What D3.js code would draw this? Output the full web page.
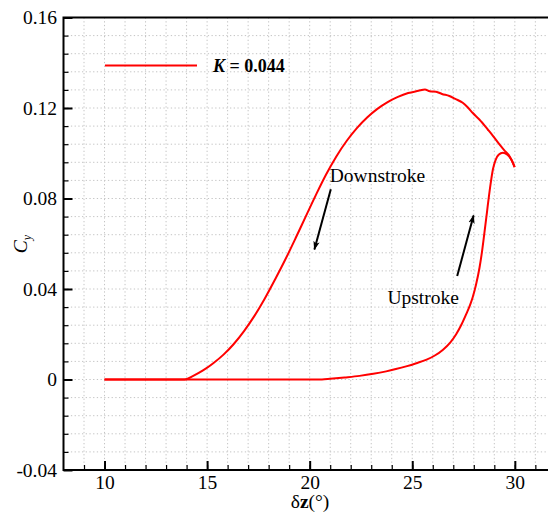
<!DOCTYPE html>
<html>
<head>
<meta charset="utf-8">
<script src="https://cdn.jsdelivr.net/npm/d3@7"></script>
<style>
  html, body { margin: 0; padding: 0; background: #fff; overflow: hidden; }
  svg { display: block; font-family: "Liberation Serif", "Times New Roman", serif; }
</style>
</head>
<body>
<svg id="chart" width="548" height="515"></svg>
<script>
// Lift coefficient over one flapping cycle, K = 0.044
// Upstroke runs left to right along the bottom; downstroke returns over the top.
const dz = [
  10, 14, 20.6, 21.0, 21.7, 22.43, 23.1, 23.73, 24.2, 24.7, 25.2, 25.7, 26.1, 26.5,
  26.85, 27.14, 27.40, 27.63, 27.82, 27.95, 28.11, 28.28, 28.40, 28.52, 28.64, 28.74,
  28.84, 28.93, 29.06, 29.21, 29.42, 29.64, 29.84, 29.99,
  29.88, 29.7, 29.49, 29.25, 28.95, 28.68, 28.27, 27.94, 27.7, 27.46, 27.1, 26.81,
  26.45, 26.16, 25.85, 25.62, 25.3, 24.8, 24.3, 23.8, 23.3, 22.8, 22.3, 21.8,
  21.3, 20.8, 20.3, 19.8, 19.3, 18.8, 18.3, 17.8, 17.3, 16.8, 16.3, 15.8,
  15.3, 14.8, 14.3, 13.9, 10
];
const cy = [
  0, 0, 0, 0.0003, 0.0009, 0.0016, 0.0025, 0.0036, 0.0046, 0.0058, 0.0072, 0.0088, 0.0106, 0.0132,
  0.0163, 0.0200, 0.0243, 0.0289, 0.0330, 0.0365, 0.0420, 0.0495, 0.0565, 0.0650, 0.0738, 0.0812,
  0.0878, 0.0928, 0.0970, 0.0993, 0.1002, 0.0993, 0.0971, 0.0939,
  0.0962, 0.0993, 0.1013, 0.1039, 0.1075, 0.1105, 0.1149, 0.1179, 0.1203, 0.1223, 0.1240, 0.1253,
  0.1262, 0.1272, 0.1274, 0.1282, 0.1276, 0.1266, 0.1249, 0.1226, 0.1196, 0.1158, 0.1111, 0.1054,
  0.0986, 0.0906, 0.0815, 0.0719, 0.0622, 0.0528, 0.0440, 0.0356, 0.0280, 0.0214, 0.0157, 0.0110,
  0.0072, 0.0040, 0.0015, 0, 0
];

const xMajor = [10, 15, 20, 25, 30];
const yMajor = [-0.04, 0, 0.04, 0.08, 0.12, 0.16];
const yLabels = ["-0.04", "0", "0.04", "0.08", "0.12", "0.16"];
const xDomain = [8, 32];
const yDomain = [-0.04, 0.16];
const legendLabel = "0.044";

// Annotation anchors in data units: [x, y]
const downText = [20.98, 0.0871];
const downArrow = [[21.03, 0.0841], [20.23, 0.0575]];
const upText = [23.79, 0.0332];
const upArrow = [[27.19, 0.0457], [27.99, 0.0725]];

const svg = d3.select("#chart");
const plotLeft = 63.5, plotTop = 17.5, plotBottom = 470;
const x = d3.scaleLinear().domain(xDomain).range([plotLeft, plotLeft + 24 * 20.515]);
const y = d3.scaleLinear().domain(yDomain).range([plotBottom, plotTop]);
const plotRight = x(xDomain[1]);

svg.append("rect").attr("width", 548).attr("height", 515).attr("fill", "#fff");

// Dotted grid on every minor step
const xMinor = d3.range(xDomain[0] + 1, xDomain[1], 1);
const yMinor = d3.range(1, 25).map(i => +(yDomain[0] + i * 0.008).toFixed(3));
const grid = svg.append("g").attr("stroke", "#c4c4c4").attr("stroke-width", 1)
  .attr("stroke-dasharray", "1.3,2.4");
grid.selectAll("line.gx").data(xMinor).join("line").attr("class", "gx")
  .attr("x1", d => x(d)).attr("x2", d => x(d)).attr("y1", plotTop).attr("y2", plotBottom);
grid.selectAll("line.gy").data(yMinor).join("line").attr("class", "gy")
  .attr("x1", plotLeft).attr("x2", plotRight).attr("y1", d => y(d)).attr("y2", d => y(d));

// Axes with inward ticks
const fontSize = "19.5px";
const gxMinor = svg.append("g").attr("transform", `translate(0,${plotBottom})`)
  .call(d3.axisBottom(x).tickValues(xMinor).tickSize(-5).tickFormat(""));
const gxMajor = svg.append("g").attr("transform", `translate(0,${plotBottom})`)
  .call(d3.axisBottom(x).tickValues(xMajor).tickSize(-9).tickPadding(5).tickFormat(d3.format("d")));
const gyMinor = svg.append("g").attr("transform", `translate(${plotLeft},0)`)
  .call(d3.axisLeft(y).tickValues(yMinor).tickSize(-5).tickFormat(""));
const gyMajor = svg.append("g").attr("transform", `translate(${plotLeft},0)`)
  .call(d3.axisLeft(y).tickValues(yMajor).tickSize(-9).tickPadding(6.5)
    .tickFormat((d, i) => yLabels[i]));

[gxMinor, gxMajor, gyMinor, gyMajor].forEach(g => {
  g.select(".domain").remove();
  g.selectAll("text").attr("font-family", "Liberation Serif").attr("font-size", fontSize).attr("fill", "#000");
});
gxMinor.selectAll("line").attr("stroke", "#000").attr("stroke-width", 1.2);
gyMinor.selectAll("line").attr("stroke", "#000").attr("stroke-width", 1.2);
gxMajor.selectAll("line").attr("stroke", "#000").attr("stroke-width", 2);
gyMajor.selectAll("line").attr("stroke", "#000").attr("stroke-width", 2);

// Frame
svg.append("rect").attr("x", plotLeft).attr("y", plotTop)
  .attr("width", plotRight - plotLeft).attr("height", plotBottom - plotTop)
  .attr("fill", "none").attr("stroke", "#000").attr("stroke-width", 2);

// Curve: each stroke is monotone in δz, so draw the two halves separately
const pts = dz.map((d, i) => [d, cy[i]]);
const turn = d3.maxIndex(dz);
const line = d3.line().curve(d3.curveMonotoneX).x(d => x(d[0])).y(d => y(d[1]));
svg.selectAll("path.stroke")
  .data([pts.slice(0, turn + 1), pts.slice(turn)])
  .join("path").attr("class", "stroke")
  .attr("fill", "none").attr("stroke", "#ff0000").attr("stroke-width", 2)
  .attr("stroke-linejoin", "round")
  .attr("d", line);

// Legend
svg.append("line").attr("x1", 105).attr("x2", 197).attr("y1", 65.5).attr("y2", 65.5)
  .attr("stroke", "#ff0000").attr("stroke-width", 2);
const lt = svg.append("text").attr("x", 213).attr("y", 72)
  .attr("font-size", "18px").attr("font-weight", "bold").attr("fill", "#000");
lt.append("tspan").attr("font-style", "italic").text("K");
lt.append("tspan").text(" = " + legendLabel);

// Axis titles
const xt = svg.append("text").attr("x", 310).attr("y", 508).attr("text-anchor", "middle")
  .attr("font-size", fontSize).attr("fill", "#000");
xt.append("tspan").text("δ");
xt.append("tspan").attr("font-weight", "bold").text("z");
xt.append("tspan").text("(°)");

const yt = svg.append("text").attr("transform", "translate(27,244) rotate(-90)")
  .attr("text-anchor", "middle").attr("font-size", fontSize).attr("fill", "#000")
  .attr("font-style", "italic");
yt.append("tspan").text("C");
yt.append("tspan").attr("font-size", "12px").attr("dy", 4).text("y");

// Annotations
svg.append("defs").append("marker").attr("id", "head")
  .attr("viewBox", "0 0 10 10").attr("refX", 9).attr("refY", 5)
  .attr("markerWidth", 4.5).attr("markerHeight", 4.5).attr("orient", "auto")
  .attr("markerUnits", "strokeWidth")
  .append("path").attr("d", "M0,1.5 L10,5 L0,8.5 L2.5,5 Z").attr("fill", "#000");

svg.append("text").attr("x", x(downText[0])).attr("y", y(downText[1]))
  .attr("font-size", fontSize).attr("fill", "#000").text("Downstroke");
svg.append("text").attr("x", x(upText[0])).attr("y", y(upText[1]))
  .attr("font-size", fontSize).attr("fill", "#000").text("Upstroke");

[downArrow, upArrow].forEach(a => {
  svg.append("line")
    .attr("x1", x(a[0][0])).attr("y1", y(a[0][1]))
    .attr("x2", x(a[1][0])).attr("y2", y(a[1][1]))
    .attr("stroke", "#000").attr("stroke-width", 2).attr("marker-end", "url(#head)");
});
</script>
</body>
</html>
